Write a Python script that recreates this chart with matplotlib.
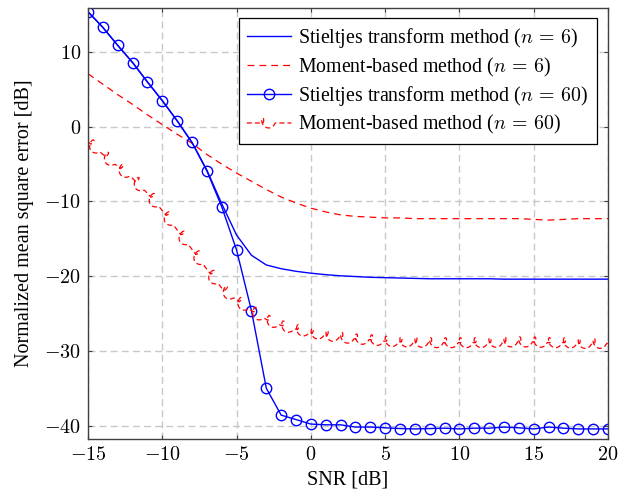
import numpy as np
import matplotlib
matplotlib.use('Agg')
import matplotlib.pyplot as plt
from matplotlib.lines import Line2D
from matplotlib.legend_handler import HandlerBase
from matplotlib.ticker import FuncFormatter, MultipleLocator

plt.rcParams['font.family'] = 'serif'
plt.rcParams['font.serif'] = ['Liberation Serif', 'DejaVu Serif']
plt.rcParams['mathtext.fontset'] = 'cm'

snr = list(range(-15, 21))

# Stieltjes transform method, n = 6
st6 = [15.4, 13.3, 10.9, 8.6, 6.0, 3.5, 0.8, -2.1, -5.8, -10.3, -14.5, -17.2, -18.5, -19.0, -19.35, -19.6,
       -19.8, -19.95, -20.05, -20.15, -20.2, -20.25, -20.3, -20.35, -20.35, -20.35, -20.35, -20.35,
       -20.4, -20.4, -20.4, -20.4, -20.4, -20.4, -20.4, -20.4]
# moment-based method, n = 6
mb6 = [7.1, 5.7, 4.3, 3.0, 1.6, 0.3, -1.0, -2.2, -3.7, -5.0, -6.2, -7.3, -8.4, -9.4, -10.2, -10.9,
       -11.4, -11.8, -12.0, -12.1, -12.2, -12.2, -12.3, -12.3, -12.3, -12.3, -12.3, -12.3, -12.3, -12.3,
       -12.4, -12.5, -12.4, -12.3, -12.3, -12.3]
# Stieltjes transform method, n = 60
st60 = [15.4, 13.3, 10.9, 8.6, 6.0, 3.5, 0.8, -2.1, -5.9, -10.7, -16.5, -24.6, -35.0, -38.6, -39.2, -39.8,
        -39.9, -39.9, -40.2, -40.2, -40.3, -40.4, -40.45, -40.4, -40.35, -40.45, -40.35, -40.35, -40.2,
        -40.3, -40.45, -40.2, -40.35, -40.45, -40.45, -40.45]
# moment-based method, n = 60
mb60 = [-2.0, -3.7, -5.3, -6.9, -8.9, -11.2, -13.8, -16.4, -19.1, -21.6, -23.2, -24.6, -25.8, -26.6, -27.1, -27.6,
        -27.9, -28.2, -28.4, -28.5, -28.7, -28.8, -28.8, -28.9, -28.9, -28.9, -28.9, -28.9, -28.8, -28.8,
        -28.8, -28.9, -28.9, -29.0, -29.0, -29.0]

labels = [r'Stieltjes transform method ($n\,=\,6$)',
          r'Moment-based method ($n\,=\,6$)',
          r'Stieltjes transform method ($n\,=\,60$)',
          r'Moment-based method ($n\,=\,60$)']

fs = 14.5

fig = plt.figure(figsize=(6.25, 4.91), dpi=100)
ax = fig.add_axes([0.1408, 0.1059, 0.8320, 0.8778])
ax.set_xlim(-15, 20)
ax.set_ylim(-41.8, 15.9)

ax.grid(True, color='#c8c8c8', linestyle=(0, (5, 3)), linewidth=1.0)
ax.set_axisbelow(True)
for sp in ax.spines.values():
    sp.set_color('#404040')
    sp.set_linewidth(1.0)
ax.tick_params(direction='in', length=3, width=0.8, color='#404040', top=True, right=True,
               labelsize=fs, pad=5)
ax.xaxis.set_major_locator(MultipleLocator(5))
ax.yaxis.set_major_locator(MultipleLocator(10))
fmt = FuncFormatter(lambda v, _: r'$%d$' % round(v))
ax.xaxis.set_major_formatter(fmt)
ax.yaxis.set_major_formatter(fmt)
ax.set_xlabel('SNR [dB]', fontsize=fs, labelpad=4)
ax.set_ylabel('Normalized mean square error [dB]', fontsize=fs, labelpad=7)

blue = (0, 0, 1)
red = (1, 0, 0)
dash = (5.5, 4)
coil_dash = (4.0, 2.5)

ax.plot(snr, st6, color=blue, lw=1.0)
ax.plot(snr, mb6, color=red, lw=0.9, dashes=dash)
ax.plot(snr, st60, color=blue, lw=1.0, marker='o', markersize=7.5, markerfacecolor='none',
        markeredgewidth=1.0)


def loop_polyline(pts, w, a, c):
    # one coil turn in the middle of every segment (pixel/point units)
    xs, ys = [], []
    for p0, p1 in zip(pts[:-1], pts[1:]):
        v = p1 - p0
        L = np.hypot(*v)
        t = v / L
        nrm = np.array([-t[1], t[0]])
        u = np.linspace(0, L, 120)
        u0 = L / 2 - w / 2
        inside = (u >= u0) & (u <= u0 + w)
        th = 2 * np.pi * (u - u0) / w
        ot = np.where(inside, -c * (1 - np.cos(th)), 0)
        on = np.where(inside, a * np.sin(th), 0)
        q = p0 + np.outer(u + ot, t) + np.outer(on, nrm)
        xs.append(q[:, 0])
        ys.append(q[:, 1])
    return np.concatenate(xs), np.concatenate(ys)


pts = ax.transData.transform(np.column_stack([snr, mb60]))
px, py = loop_polyline(pts, w=12.0, a=5.0, c=3.5)
back = ax.transData.inverted().transform(np.column_stack([px, py]))
ax.plot(back[:, 0], back[:, 1], color=red, lw=0.9, dashes=coil_dash)


class HandlerCoil(HandlerBase):
    def create_artists(self, legend, orig_handle, xdescent, ydescent, width, height, fontsize, trans):
        y0 = height / 2 - ydescent
        pts = np.array([[-xdescent, y0], [width - xdescent, y0]])
        x, y = loop_polyline(pts, w=8.6, a=3.6, c=2.5)
        ln = Line2D(x, y, color=red, lw=0.9, dashes=coil_dash)
        ln.set_transform(trans)
        return [ln]


h1 = Line2D([], [], color=blue, lw=1.0)
h2 = Line2D([], [], color=red, lw=0.9, dashes=dash)
h3 = Line2D([], [], color=blue, lw=1.0, marker='o', markersize=7.5, markerfacecolor='none',
            markeredgewidth=1.0)
h4 = Line2D([], [], color=red, lw=0.9)
leg = ax.legend([h1, h2, h3, h4], labels, loc='upper right', bbox_to_anchor=(0.978, 0.976),
                fontsize=14.3, fancybox=False, framealpha=1, edgecolor='black', borderpad=0.4,
                handlelength=2.25, handletextpad=0.35, labelspacing=0.27, borderaxespad=0,
                numpoints=1, handler_map={h4: HandlerCoil()})
leg.get_frame().set_linewidth(0.9)

fig.savefig('out.png', dpi=100)
